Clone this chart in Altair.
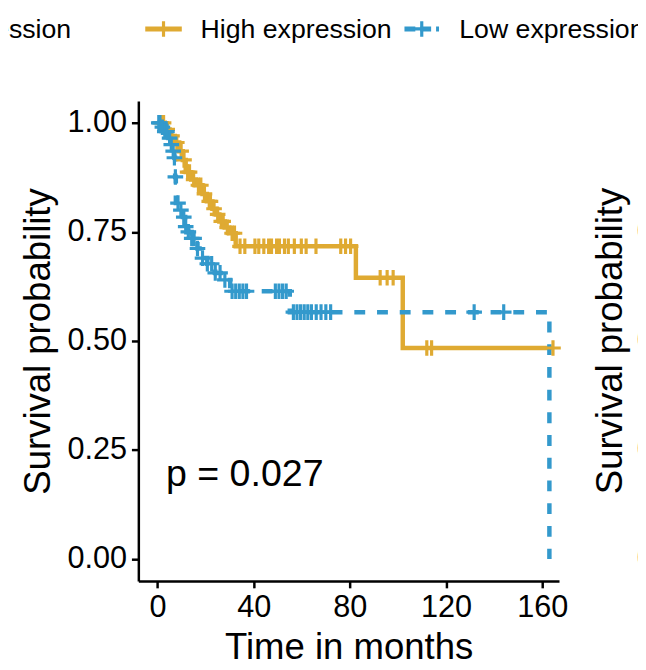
import altair as alt
import pandas as pd

GOLD = "#DFAA32"
BLUE = "#3399CC"
FONT = "Liberation Sans"

# ---- Kaplan-Meier step curves (time in months, survival probability) ----
high_t = [0, 3, 5, 7.2, 9, 10.5, 11.7, 14, 15.8, 18.7, 20.5, 22.8, 24.5, 25.7, 28, 29.8, 32.5, 82.5, 102, 164.5]
high_s = [1.0, 0.985, 0.97, 0.955, 0.935, 0.915, 0.887, 0.87, 0.857, 0.837, 0.82, 0.803, 0.79, 0.774, 0.76, 0.747,
          0.717, 0.645, 0.484, 0.484]

low_t = [0, 2, 3.5, 4.5, 5.5, 6.3, 7.0, 7.3, 7.6, 9, 10.5, 11.5, 12.8, 14.2, 16.6, 18.7, 20.7, 24, 28, 30.2, 55, 163]
low_s = [1.0, 0.99, 0.98, 0.965, 0.95, 0.935, 0.92, 0.876, 0.816, 0.80, 0.784, 0.762, 0.75, 0.735, 0.712, 0.69, 0.677,
         0.656, 0.64, 0.614, 0.566, 0.0]

# ---- censoring marks ----
high_ct = [1.5, 2.5, 4, 6, 8, 9.8, 11, 12.5, 13.3, 15, 17, 18, 19.5, 21.5, 22, 23.5, 25, 26.5, 27.3, 29, 31, 32,
           34.3, 36.3, 40.5, 42.1, 44.2, 46.2, 47.4, 49.5, 50.7, 52.8, 54.4, 56.9, 59.8, 61.8, 65.9, 76.2, 78.2, 80.3,
           92.6, 95.5, 98.0, 112, 114, 164.5]
high_cs = [1.0, 1.0, 0.985, 0.97, 0.955, 0.935, 0.915, 0.887, 0.887, 0.87, 0.857, 0.857, 0.837, 0.82, 0.82, 0.803, 0.79,
           0.774, 0.774, 0.76, 0.747, 0.747,
           0.717, 0.717, 0.717, 0.717, 0.717, 0.717, 0.717, 0.717, 0.717, 0.717, 0.717, 0.717, 0.717, 0.717, 0.717,
           0.717, 0.717, 0.717,
           0.645, 0.645, 0.645, 0.484, 0.484, 0.484]

low_ct = [0.5, 1.0, 2.0, 3.0, 3.9, 5.0, 5.7, 6.5, 7.0, 7.4, 8.5, 9.7, 10.9, 11.7, 12.8, 14.2, 15.2, 16.6, 18.7, 20.7,
          22.5, 24, 26, 28,
          31, 32.5, 34, 35.5, 37, 49, 50.5, 52, 53.5,
          56.5, 58, 59.5, 61, 62.5, 64, 66, 68, 70, 72, 131.7, 144]
low_cs = [1.0, 1.0, 0.99, 0.98, 0.98, 0.965, 0.95, 0.935, 0.92, 0.876, 0.816, 0.80, 0.784, 0.762, 0.75, 0.735, 0.735,
          0.712, 0.69, 0.677, 0.677, 0.656, 0.656, 0.64,
          0.614, 0.614, 0.614, 0.614, 0.614, 0.614, 0.614, 0.614, 0.614,
          0.566, 0.566, 0.566, 0.566, 0.566, 0.566, 0.566, 0.566, 0.566, 0.566, 0.566, 0.566]

x_ticks = [0, 40, 80, 120, 160]
y_ticks = [0, 0.25, 0.5, 0.75, 1.0]
p_label = "p = 0.027"
legend_labels = ["High expression", "Low expression"]
side_ticks = ["1.00", "0.75", "0.50", "0.25", "0.00"]

CROSS = "M-1,0L1,0M0,-1L0,1"
CROSS_SIZE = 250
CROSS_W = 3.2

high_line = pd.DataFrame({"t": high_t, "s": high_s})
low_line = pd.DataFrame({"t": low_t, "s": low_s})
high_c = pd.DataFrame({"t": high_ct, "s": high_cs})
low_c = pd.DataFrame({"t": low_ct, "s": low_cs})

x_enc = alt.X("t:Q", scale=alt.Scale(domain=[-8, 167], nice=False, zero=False),
              axis=alt.Axis(values=x_ticks, title="Time in months", grid=False,
                            titleX=213, titleY=79, titleBaseline="alphabetic",
                            labelPadding=5))
y_enc = alt.Y("s:Q", scale=alt.Scale(domain=[-0.05, 1.05], nice=False, zero=False),
              axis=alt.Axis(values=y_ticks, format=".2f", title="Survival probability", grid=False,
                            titleX=-90, titleY=243, titleAngle=270, titleAlign="center",
                            titleBaseline="alphabetic", labelPadding=5))

gold_line = alt.Chart(high_line).mark_line(interpolate="step-after", color=GOLD, strokeWidth=4.5).encode(x=x_enc, y=y_enc)
blue_line = alt.Chart(low_line).mark_line(interpolate="step-after", color=BLUE, strokeWidth=4.5,
                                          strokeDash=[11, 12]).encode(x=x_enc, y=y_enc)
gold_c = alt.Chart(high_c).mark_point(shape=CROSS, filled=False, color=GOLD, strokeWidth=CROSS_W, size=CROSS_SIZE,
                                      opacity=1).encode(x=x_enc, y=y_enc)
blue_c = alt.Chart(low_c).mark_point(shape=CROSS, filled=False, color=BLUE, strokeWidth=CROSS_W, size=CROSS_SIZE,
                                     opacity=1).encode(x=x_enc, y=y_enc)

one = pd.DataFrame({"a": [0]})


def text_at(txt, x, y, size, align="left", baseline="alphabetic", angle=0):
    return alt.Chart(one).mark_text(text=txt, font=FONT, fontSize=size, color="black", align=align,
                                    baseline=baseline, angle=angle).encode(x=alt.value(x), y=alt.value(y))


layers = [gold_line, blue_line, gold_c, blue_c]
layers.append(text_at(p_label, 28, 390, 38))

# legend (top)
LEG_Y = -73
layers.append(alt.Chart(one).mark_rule(color=GOLD, strokeWidth=5).encode(
    x=alt.value(7), x2=alt.value(44), y=alt.value(LEG_Y)))
layers.append(alt.Chart(one).mark_point(shape=CROSS, filled=False, color=GOLD, strokeWidth=CROSS_W, size=CROSS_SIZE,
                                        opacity=1).encode(x=alt.value(25.5), y=alt.value(LEG_Y)))
layers.append(text_at(legend_labels[0], 63, -64, 27))
layers.append(alt.Chart(one).mark_rule(color=BLUE, strokeWidth=5, strokeDash=[11, 5]).encode(
    x=alt.value(269.5), x2=alt.value(304.5), y=alt.value(LEG_Y)))
layers.append(alt.Chart(one).mark_point(shape=CROSS, filled=False, color=BLUE, strokeWidth=CROSS_W, size=CROSS_SIZE,
                                        opacity=1).encode(x=alt.value(287), y=alt.value(LEG_Y)))
layers.append(text_at(legend_labels[1], 325, -64, 27))
# neighbouring panel's legend entry (cut off at left)
layers.append(text_at(legend_labels[1], -68, -64, 27, align="right"))

# neighbouring panel on the right (cut off)
layers.append(text_at("Survival probability", 490, 243, 37, align="center", angle=270))
for v, py in zip(side_ticks, [22, 133, 243, 354, 464]):
    layers.append(text_at(v, 565, py, 31, align="right", baseline="middle"))

chart = alt.layer(*layers).properties(
    width=426, height=486,
    autosize="none",
    padding={"left": 132, "top": 90, "right": 80, "bottom": 86},
).configure_view(stroke=None).configure_axis(
    labelFont=FONT, titleFont=FONT, labelFontSize=31, titleFontSize=37, titleFontWeight="normal",
    labelColor="black", titleColor="black", domainColor="black", tickColor="black",
    domainWidth=2.5, tickWidth=2.5, tickSize=7,
)

chart.save("out.html", embed_options={"renderer": "svg", "actions": False})
